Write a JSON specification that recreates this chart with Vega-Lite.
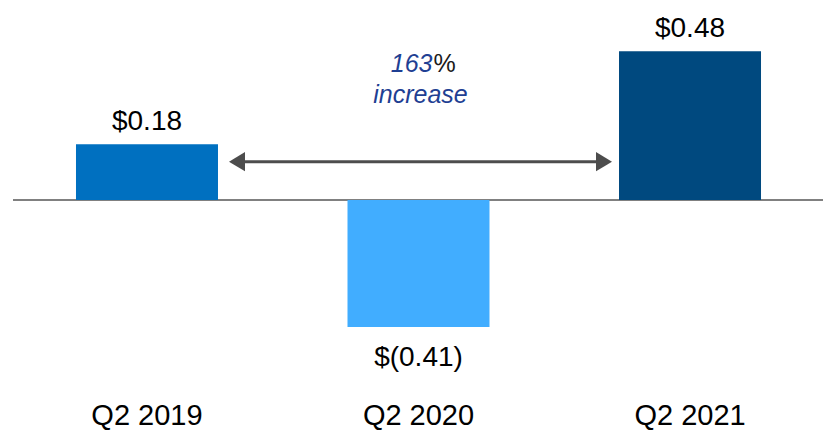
{
  "$schema": "https://vega.github.io/schema/vega-lite/v6.json",
  "width": 811,
  "height": 380,
  "autosize": {"type": "pad"},
  "padding": {"left": 12, "top": 0, "right": 0, "bottom": 0},
  "background": "white",
  "config": {"view": {"stroke": null}, "font": "Liberation Sans"},
  "data": {
    "values": [
      {"quarter": "Q2 2019", "eps": 0.18, "label": "$0.18"},
      {"quarter": "Q2 2020", "eps": -0.41, "label": "$(0.41)"},
      {"quarter": "Q2 2021", "eps": 0.48, "label": "$0.48"}
    ]
  },
  "layer": [
    {
      "mark": {"type": "rule", "color": "#808080", "strokeWidth": 2},
      "encoding": {
        "y": {"datum": 0, "type": "quantitative", "scale": {"domain": [-0.58065, 0.64516], "nice": false, "zero": false}, "axis": null}
      }
    },
    {
      "mark": {"type": "bar"},
      "encoding": {
        "x": {
          "field": "quarter", "type": "nominal",
          "scale": {"domain": ["Q2 2019", "Q2 2020", "Q2 2021"], "paddingInner": 0.477, "paddingOuter": 0.232},
          "axis": {"title": null, "domain": false, "ticks": false, "tickSize": 0, "labelFontSize": 29, "labelColor": "black", "labelFont": "Liberation Sans", "labelPadding": 44, "labelBaseline": "alphabetic", "labelAngle": 0}
        },
        "y": {"field": "eps", "type": "quantitative", "axis": null},
        "color": {"field": "quarter", "type": "nominal", "scale": {"domain": ["Q2 2019", "Q2 2020", "Q2 2021"], "range": ["#0070C0", "#41ADFF", "#00497F"]}, "legend": null}
      }
    },
    {
      "transform": [{"filter": "datum.eps > 0"}],
      "mark": {"type": "text", "fontSize": 28, "baseline": "alphabetic", "dy": -14, "color": "black"},
      "encoding": {
        "x": {"field": "quarter", "type": "nominal"},
        "y": {"field": "eps", "type": "quantitative"},
        "text": {"field": "label"}
      }
    },
    {
      "transform": [{"filter": "datum.eps < 0"}],
      "mark": {"type": "text", "fontSize": 28, "baseline": "alphabetic", "dy": 39, "color": "black"},
      "encoding": {
        "x": {"field": "quarter", "type": "nominal"},
        "y": {"field": "eps", "type": "quantitative"},
        "text": {"field": "label"}
      }
    },
    {
      "data": {"values": [{"from": "Q2 2019", "to": "Q2 2021"}]},
      "mark": {"type": "rule", "color": "#4d4d4d", "strokeWidth": 3, "xOffset": 90, "x2Offset": -86},
      "encoding": {
        "x": {"field": "from", "type": "nominal"},
        "x2": {"field": "to"},
        "y": {"datum": 0.1235, "type": "quantitative"}
      }
    },
    {
      "data": {"values": [{"from": "Q2 2019", "to": "Q2 2021"}]},
      "mark": {"type": "point", "shape": "M1,-1.2L-1,0L1,1.2Z", "size": 256, "filled": true, "color": "#4d4d4d", "opacity": 1, "strokeWidth": 0, "xOffset": 90},
      "encoding": {
        "x": {"field": "from", "type": "nominal"},
        "y": {"datum": 0.1235, "type": "quantitative"}
      }
    },
    {
      "data": {"values": [{"from": "Q2 2019", "to": "Q2 2021"}]},
      "mark": {"type": "point", "shape": "M-1,-1.2L1,0L-1,1.2Z", "size": 256, "filled": true, "color": "#4d4d4d", "opacity": 1, "strokeWidth": 0, "xOffset": -86},
      "encoding": {
        "x": {"field": "to", "type": "nominal"},
        "y": {"datum": 0.1235, "type": "quantitative"}
      }
    },
    {
      "data": {"values": [{"quarter": "Q2 2020", "pct": "163", "unit": "%", "word": "increase"}]},
      "layer": [
        {
          "mark": {"type": "text", "fontSize": 25, "fontStyle": "italic", "color": "#1F3F93", "align": "right", "baseline": "alphabetic", "dx": 14},
          "encoding": {
            "x": {"field": "quarter", "type": "nominal"},
            "y": {"datum": 0.4129, "type": "quantitative"},
            "text": {"field": "pct"}
          }
        },
        {
          "mark": {"type": "text", "fontSize": 25, "color": "#1a1a1a", "align": "left", "baseline": "alphabetic", "dx": 15},
          "encoding": {
            "x": {"field": "quarter", "type": "nominal"},
            "y": {"datum": 0.4129, "type": "quantitative"},
            "text": {"field": "unit"}
          }
        },
        {
          "mark": {"type": "text", "fontSize": 25, "fontStyle": "italic", "color": "#1F3F93", "align": "center", "baseline": "alphabetic", "dx": 2},
          "encoding": {
            "x": {"field": "quarter", "type": "nominal"},
            "y": {"datum": 0.3129, "type": "quantitative"},
            "text": {"field": "word"}
          }
        }
      ]
    }
  ]
}
